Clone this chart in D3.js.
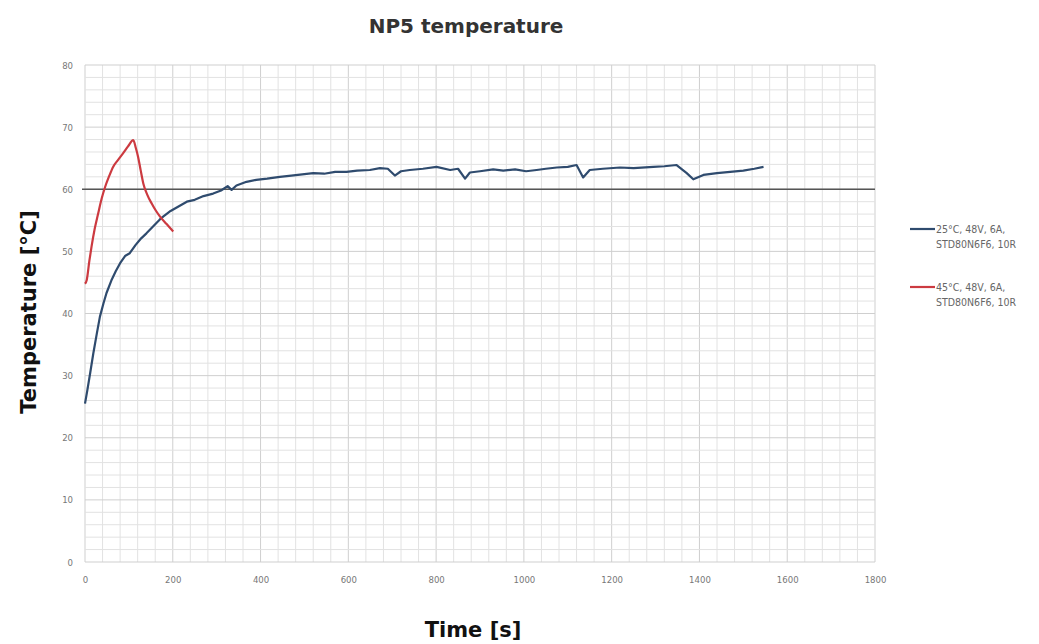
<!DOCTYPE html>
<html>
<head>
<meta charset="utf-8">
<script src="https://cdn.jsdelivr.net/npm/d3@7"></script>
<style>
  body { margin: 0; background: #fff; }
  svg { display: block; font-family: "DejaVu Sans", sans-serif; }
  .tick text { fill: #777; font-size: 9.5px; font-family: "DejaVu Sans Condensed", "DejaVu Sans", sans-serif; }
</style>
</head>
<body>
<svg id="chart" width="1039" height="644"></svg>
<script>
// values: time [s], temperature [°C]
let time25 = [0, 5, 12, 19, 27, 34, 42, 49, 60, 70, 80, 92, 102, 115, 128, 140, 155, 170, 178, 195, 215, 232, 250, 270, 292, 310, 325, 334, 345, 368, 390, 415, 444, 470, 495, 520, 545, 570, 596, 620, 649, 672, 690, 706, 720, 740, 770, 801, 832, 850, 866, 877, 900, 930, 953, 980, 1005, 1029, 1050, 1075, 1100, 1120, 1135, 1150, 1180, 1219, 1250, 1295, 1320, 1348, 1371, 1386, 1409, 1440, 1470, 1500, 1525, 1546];
let temp25 = [25.5, 27.5, 30.5, 33.6, 36.8, 39.5, 41.6, 43.3, 45.3, 46.8, 48.1, 49.3, 49.7, 51.0, 52.1, 52.9, 54.0, 55.1, 55.6, 56.5, 57.3, 58.0, 58.3, 58.9, 59.3, 59.8, 60.5, 59.9, 60.6, 61.2, 61.5, 61.7, 62.0, 62.2, 62.4, 62.6, 62.5, 62.8, 62.8, 63.0, 63.1, 63.4, 63.3, 62.2, 62.9, 63.1, 63.3, 63.6, 63.1, 63.3, 61.7, 62.7, 62.9, 63.2, 63.0, 63.2, 62.9, 63.1, 63.3, 63.5, 63.6, 63.9, 61.9, 63.1, 63.3, 63.5, 63.4, 63.6, 63.7, 63.9, 62.6, 61.6, 62.3, 62.6, 62.8, 63.0, 63.3, 63.6];

let time45 = [0, 4, 10, 15, 22, 30, 38, 46, 55, 64, 75, 87, 98, 110, 116, 121, 127, 133, 142, 152, 162, 171, 186, 201];
let temp45 = [44.8, 45.4, 48.5, 50.8, 53.6, 56.1, 58.5, 60.4, 62.1, 63.6, 64.7, 65.8, 66.9, 67.9, 66.6, 65.2, 63.0, 60.9, 59.1, 57.7, 56.5, 55.6, 54.4, 53.2];

let seriesNames = [["25°C, 48V, 6A,", "STD80N6F6, 10R"], ["45°C, 48V, 6A,", "STD80N6F6, 10R"]];
let seriesColors = ["#2f4b6e", "#cc3a40"];

let xTicks = [0, 200, 400, 600, 800, 1000, 1200, 1400, 1600, 1800];
let yTicks = [0, 10, 20, 30, 40, 50, 60, 70, 80];

let margin = {top: 65, left: 85},
    width = 790,
    height = 497;

let svg = d3.select("#chart");

let chart = svg.append("g")
    .attr("transform", "translate(" + margin.left + "," + margin.top + ")");

let xScale = d3.scaleLinear().domain([0, 1800]).range([0, width]);
let yScale = d3.scaleLinear().domain([0, 80]).range([height, 0]);

// minor grid: every 40 s and every 2 °C
chart.append("g")
    .selectAll("line")
    .data(d3.range(0, 1801, 40))
    .join("line")
    .attr("x1", d => xScale(d)).attr("x2", d => xScale(d))
    .attr("y1", 0).attr("y2", height)
    .attr("stroke", d => d % 200 === 0 ? "#cfcfcf" : "#e2e2e2")
    .attr("stroke-width", 1);

chart.append("g")
    .selectAll("line")
    .data(d3.range(0, 81, 2))
    .join("line")
    .attr("x1", 0).attr("x2", width)
    .attr("y1", d => yScale(d)).attr("y2", d => yScale(d))
    .attr("stroke", d => d % 10 === 0 ? "#cfcfcf" : "#e2e2e2")
    .attr("stroke-width", 1);

// axis line crossing at 60
chart.append("line")
    .attr("x1", -3).attr("x2", width)
    .attr("y1", yScale(60)).attr("y2", yScale(60))
    .attr("stroke", "#555")
    .attr("stroke-width", 1.3);

// Add axes (labels only)
chart.append("g")
    .attr("class", "axis axis-x")
    .attr("transform", "translate(0," + (height + 10) + ")")
    .call(d3.axisBottom(xScale).tickValues(xTicks).tickFormat(d3.format("d")).tickSize(0).tickPadding(4))
    .call(g => g.select(".domain").remove());

chart.append("g")
    .attr("class", "axis axis-y")
    .attr("transform", "translate(-8,0)")
    .call(d3.axisLeft(yScale).tickValues(yTicks).tickFormat(d3.format("d")).tickSize(0).tickPadding(4))
    .call(g => g.select(".domain").remove());

let line = d3.line()
    .x(d => xScale(d[0]))
    .y(d => yScale(d[1]));

chart.append("path")
    .datum(d3.zip(time25, temp25))
    .attr("d", line)
    .attr("fill", "none")
    .attr("stroke", seriesColors[0])
    .attr("stroke-width", 2.2)
    .attr("stroke-linejoin", "round");

chart.append("path")
    .datum(d3.zip(time45, temp45))
    .attr("d", line.curve(d3.curveMonotoneX))
    .attr("fill", "none")
    .attr("stroke", seriesColors[1])
    .attr("stroke-width", 2.2)
    .attr("stroke-linejoin", "round");

// title and axis labels
svg.append("text")
    .attr("x", 466).attr("y", 33)
    .attr("text-anchor", "middle")
    .attr("font-size", 20)
    .attr("font-weight", "bold")
    .attr("fill", "#333")
    .text("NP5 temperature");

svg.append("text")
    .attr("x", 473).attr("y", 637)
    .attr("text-anchor", "middle")
    .attr("font-size", 21)
    .attr("font-weight", "bold")
    .attr("fill", "#111")
    .text("Time [s]");

svg.append("text")
    .attr("transform", "translate(36,312) rotate(-90)")
    .attr("text-anchor", "middle")
    .attr("font-size", 21)
    .attr("font-weight", "bold")
    .attr("fill", "#111")
    .text("Temperature [°C]");

// legend
let legend = svg.append("g")
    .selectAll("g")
    .data(seriesNames)
    .join("g")
    .attr("transform", (d, i) => "translate(910," + (229 + i * 58) + ")");

legend.append("line")
    .attr("x1", 0).attr("x2", 25)
    .attr("stroke", (d, i) => seriesColors[i])
    .attr("stroke-width", 2.2);

legend.append("text")
    .attr("x", 26).attr("y", 4)
    .attr("font-size", 10.5)
    .attr("font-family", "DejaVu Sans Condensed, DejaVu Sans, sans-serif")
    .attr("fill", "#666")
    .text(d => d[0]);

legend.append("text")
    .attr("x", 26).attr("y", 19)
    .attr("font-size", 10.5)
    .attr("font-family", "DejaVu Sans Condensed, DejaVu Sans, sans-serif")
    .attr("fill", "#666")
    .text(d => d[1]);
</script>
</body>
</html>
